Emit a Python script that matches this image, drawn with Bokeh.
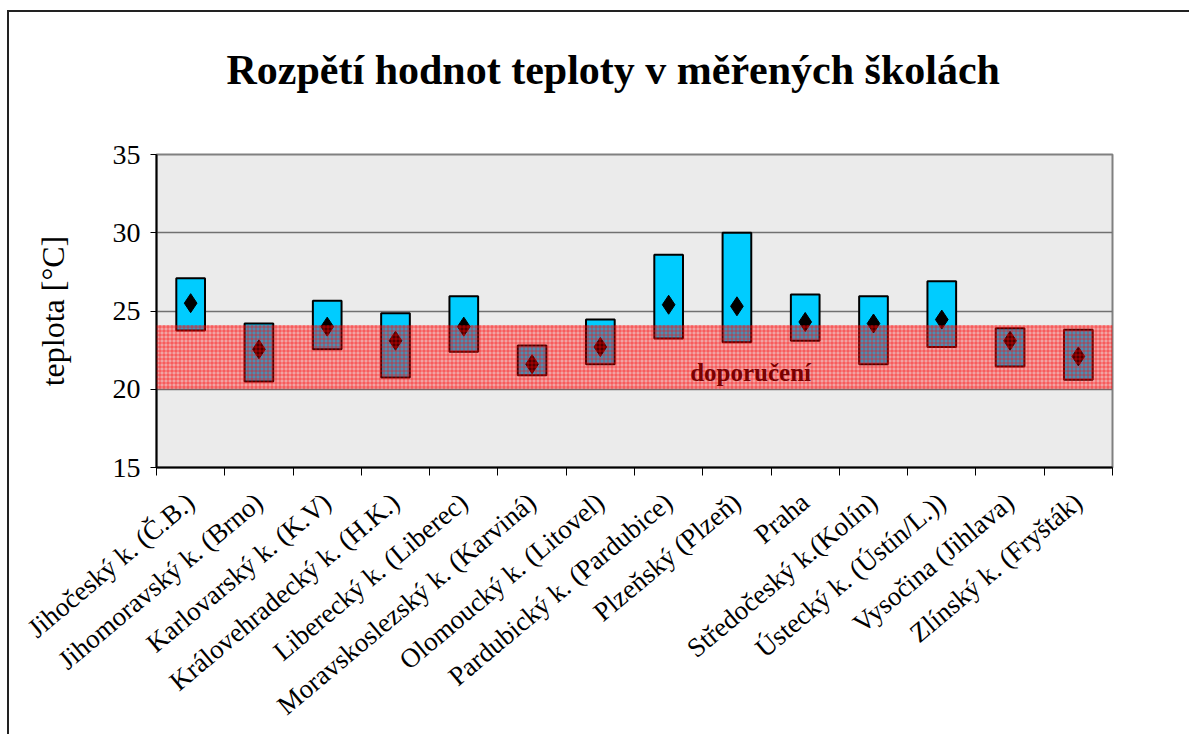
import math
from bokeh.plotting import figure
from bokeh.models import FixedTicker, BoxAnnotation, Range1d, ColumnDataSource, Label
from bokeh.embed import file_html
from bokeh.resources import INLINE

# ---- data ----
title_text = "Rozpětí  hodnot teploty v měřených školách"
regions = [
    "Jihočeský k. (Č.B.)",
    "Jihomoravský k. (Brno)",
    "Karlovarský k. (K.V)",
    "Královehradecký k. (H.K.)",
    "Liberecký k. (Liberec)",
    "Moravskoslezský k. (Karviná)",
    "Olomoucký k. (Litovel)",
    "Pardubický k. (Pardubice)",
    "Plzeňský (Plzeň)",
    "Praha",
    "Středočeský k.(Kolín)",
    "Ústecký k. (Ústín/L.))",
    "Vysočina (Jihlava)",
    "Zlínský k. (Fryšták)",
]
t_min = [23.75, 20.5, 22.55, 20.75, 22.4, 20.9, 21.6, 23.25, 23.0, 23.1, 21.6, 22.7, 21.45, 20.6]
t_max = [27.1, 24.2, 25.65, 24.85, 25.95, 22.8, 24.45, 28.6, 30.0, 26.05, 25.95, 26.9, 23.9, 23.8]
t_mean = [25.5, 22.55, 24.0, 23.1, 24.0, 21.6, 22.7, 25.4, 25.3, 24.3, 24.2, 24.45, 23.1, 22.1]
y_ticks = [15, 20, 25, 30, 35]
REC_LOW = 20.0
REC_HIGH = 24.1
REC_TEXT = "doporučení"
REC_TEXT_X = 8.7
REC_TEXT_Y = 21.05

n = len(regions)
xc = [i + 0.5 for i in range(n)]
src = ColumnDataSource(dict(x=xc, lo=t_min, hi=t_max, mean=t_mean, region=regions))

SERIF = "Liberation Serif"

p = figure(
    width=1182, height=724,
    x_range=Range1d(0, n), y_range=Range1d(y_ticks[0], y_ticks[-1]),
    output_backend="svg", toolbar_location=None,
    min_border_left=147, min_border_right=79, min_border_top=142, min_border_bottom=269,
    background_fill_color="#ebebeb", border_fill_color="white",
)
p.styles = {"margin-left": "7px", "margin-top": "10px",
            "border-left": "2px solid #222", "border-top": "2px solid #222"}

# second (blank) line lifts the title away from the plot frame
p.title.text = title_text + "\n "
p.title.text_font = SERIF
p.title.text_font_size = "42px"
p.title.text_font_style = "bold"
p.title.align = "left"
p.title.offset = 70
p.title.standoff = 32
p.title.text_color = "black"

p.outline_line_color = "#808080"
p.outline_line_width = 2

# y axis
p.yaxis.ticker = FixedTicker(ticks=y_ticks)
p.yaxis.major_label_text_font = SERIF
p.yaxis.major_label_text_font_size = "28px"
p.yaxis.major_label_text_color = "black"
p.yaxis.axis_label = "teplota [°C]"
p.yaxis.axis_label_text_font = SERIF
p.yaxis.axis_label_text_font_size = "32px"
p.yaxis.axis_label_text_font_style = "normal"
p.yaxis.axis_label_text_color = "black"
p.yaxis.axis_label_standoff = 39
p.yaxis.major_label_standoff = 10
p.yaxis.major_tick_out = 6
p.yaxis.major_tick_in = 0
p.yaxis.minor_tick_line_color = None
p.yaxis.axis_line_width = 2
p.yaxis.axis_line_color = "black"

# x axis
p.xaxis.ticker = FixedTicker(ticks=xc, minor_ticks=list(range(n + 1)))
p.xaxis.major_label_overrides = {x: r for x, r in zip(xc, regions)}
p.xaxis.major_label_orientation = math.radians(40)
p.xaxis.major_label_text_font = SERIF
p.xaxis.major_label_text_font_size = "27px"
p.xaxis.major_label_text_color = "black"
p.xaxis.major_tick_out = 0
p.xaxis.major_tick_in = 0
p.xaxis.minor_tick_out = 8
p.xaxis.minor_tick_in = 0
p.xaxis.minor_tick_line_color = "black"
p.xaxis.major_label_standoff = 23
p.xaxis.axis_line_width = 2
p.xaxis.axis_line_color = "black"

p.xgrid.visible = False
p.ygrid.ticker = FixedTicker(ticks=y_ticks)
p.ygrid.grid_line_color = "#707070"
p.ygrid.grid_line_width = 1.5

p.vbar(x="x", bottom="lo", top="hi", width=0.42, source=src,
       fill_color="#00CCFF", line_color="black", line_width=2)
p.scatter(x="x", y="mean", source=src, marker="diamond", size=19,
          fill_color="black", line_color="black")

band = BoxAnnotation(bottom=REC_LOW, top=REC_HIGH, fill_color="red", fill_alpha=0.3,
                     hatch_pattern="+", hatch_color="red", hatch_alpha=0.5,
                     hatch_scale=4, hatch_weight=1, line_color=None)
p.add_layout(band)

lbl = Label(x=REC_TEXT_X, y=REC_TEXT_Y, text=REC_TEXT, text_align="center",
            text_baseline="middle", text_font=SERIF, text_font_size="25px",
            text_font_style="bold", text_color="#7a0000")
p.add_layout(lbl)

open("out.html", "w").write(file_html(p, INLINE))
